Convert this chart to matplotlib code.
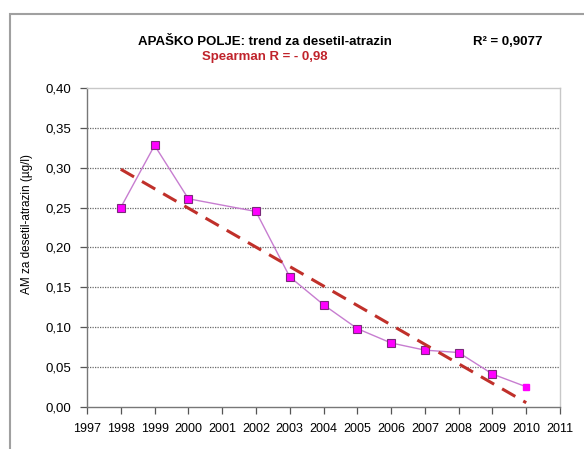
import numpy as np
import matplotlib
matplotlib.use("Agg")
import matplotlib.pyplot as plt
from matplotlib.patches import Rectangle

plt.rcParams['font.family'] = ['Liberation Sans', 'DejaVu Sans']

years = [1998, 1999, 2000, 2002, 2003, 2004, 2005, 2006, 2007, 2008, 2009, 2010]
values = [0.250, 0.328, 0.261, 0.245, 0.163, 0.128, 0.098, 0.080, 0.071, 0.068, 0.041, 0.025]
trend_years = [1998, 2010]
trend_values = [0.298, 0.005]
yticks = [0.0, 0.05, 0.10, 0.15, 0.20, 0.25, 0.30, 0.35, 0.40]
xticks = list(range(1997, 2012))

fig = plt.figure(figsize=(5.84, 4.49), dpi=100)
fig.patches.append(Rectangle((9.5/584, -0.1), 1.0, (449-14)/449 + 0.1, transform=fig.transFigure,
                             fill=False, edgecolor='#a0a0a0', linewidth=1.5))
ax = fig.add_axes([87/584, (449-406.7)/449, (560-87)/584, (406.7-88)/449])

ax.plot(years, values, color='#c77dd0', linewidth=1.0, zorder=3)
ax.plot(years[:-1], values[:-1], linestyle='none', marker='s', markersize=6,
        markerfacecolor='#ff00ff', markeredgecolor='#7a2a7a', markeredgewidth=0.8, zorder=4)
ax.plot(years[-1:], values[-1:], linestyle='none', marker='s', markersize=4,
        markerfacecolor='#ff00ff', markeredgecolor='#ff00ff', zorder=4)
ax.plot(trend_years, trend_values, color='#c0302a', linewidth=2.2, linestyle=(0, (5, 3)), zorder=5)

ax.set_xlim(1997, 2011)
ax.set_ylim(0, 0.40)
ax.set_xticks(xticks)
ax.set_xticklabels([str(x) for x in xticks], fontsize=9)
ax.set_yticks(yticks)
ax.set_yticklabels([f"{v:.2f}".replace('.', ',') for v in yticks], fontsize=9.5)
for v in yticks[1:-1]:
    ax.axhline(v, color='#6a6a6a', linestyle=(0, (1, 1)), linewidth=0.9, zorder=1)
ax.tick_params(axis='both', direction='out', length=5, color='#555555', width=0.9)
ax.tick_params(axis='x', pad=7)
ax.tick_params(axis='y', pad=6)
for s in ['left', 'bottom']:
    ax.spines[s].set_color('#777777')
    ax.spines[s].set_linewidth(1.0)
for s in ['top', 'right']:
    ax.spines[s].set_color('#c8c8c8')
    ax.spines[s].set_linewidth(1.0)

fig.text(27/584, 1 - 224/449, 'AM za desetil-atrazin (µg/l)', rotation=90, ha='center', va='center',
         fontsize=8.5)

fig.text(265/584, 1 - 42/449, 'APAŠKO POLJE: trend za desetil-atrazin', ha='center', va='center',
         fontsize=9.5, fontweight='bold')
fig.text(265/584, 1 - 57/449, 'Spearman R = - 0,98', ha='center', va='center',
         fontsize=9.5, fontweight='bold', color='#c0232b')
fig.text(508/584, 1 - 42/449, 'R² = 0,9077', ha='center', va='center',
         fontsize=9.5, fontweight='bold')

fig.savefig('out.png', dpi=100)
